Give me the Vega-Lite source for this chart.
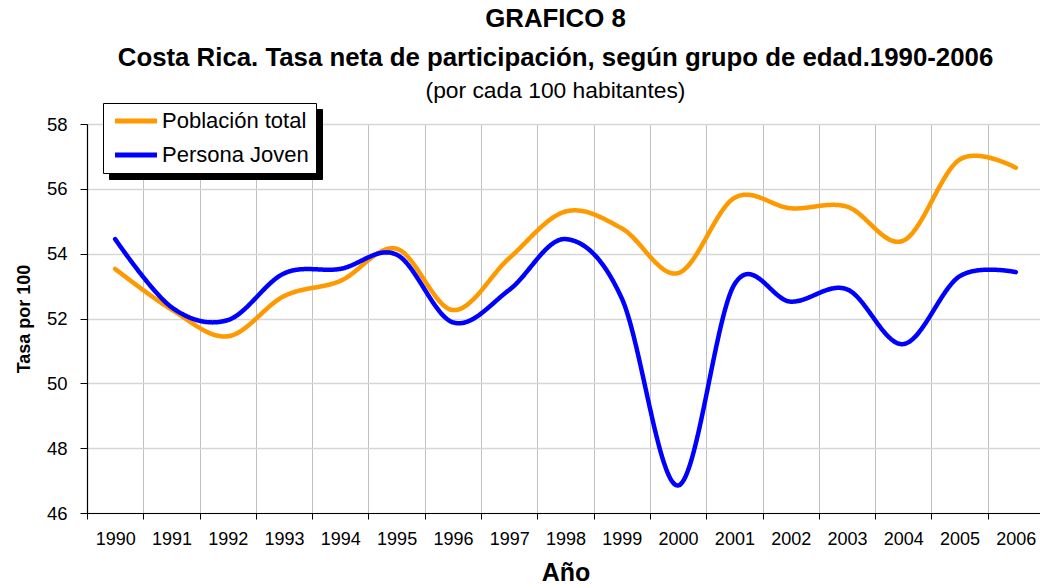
{
  "$schema": "https://vega.github.io/schema/vega-lite/v6.json",
  "width": 953,
  "height": 389,
  "autosize": {"type": "none"},
  "padding": {"left": 87, "top": 124, "right": 0, "bottom": 71},
  "background": "white",
  "title": {
    "text": ["GRAFICO 8", "Costa Rica. Tasa neta de participación, según grupo de edad.1990-2006"],
    "subtitle": "(por cada 100 habitantes)",
    "font": "Liberation Sans",
    "fontSize": 25.8,
    "fontWeight": "bold",
    "lineHeight": 39,
    "color": "black",
    "subtitleFont": "Liberation Sans",
    "subtitleFontSize": 22.8,
    "subtitleFontWeight": "normal",
    "subtitleColor": "black",
    "subtitlePadding": 8,
    "anchor": "middle",
    "frame": "group",
    "dx": -8,
    "offset": -1
  },
  "data": {
    "values": [
      {"anio": "1990", "serie": "Población total", "tasa": 53.53},
      {"anio": "1991", "serie": "Población total", "tasa": 52.28},
      {"anio": "1992", "serie": "Población total", "tasa": 51.45},
      {"anio": "1993", "serie": "Población total", "tasa": 52.69},
      {"anio": "1994", "serie": "Población total", "tasa": 53.16},
      {"anio": "1995", "serie": "Población total", "tasa": 54.15},
      {"anio": "1996", "serie": "Población total", "tasa": 52.26},
      {"anio": "1997", "serie": "Población total", "tasa": 53.86},
      {"anio": "1998", "serie": "Población total", "tasa": 55.3},
      {"anio": "1999", "serie": "Población total", "tasa": 54.78},
      {"anio": "2000", "serie": "Población total", "tasa": 53.4},
      {"anio": "2001", "serie": "Población total", "tasa": 55.72},
      {"anio": "2002", "serie": "Población total", "tasa": 55.4},
      {"anio": "2003", "serie": "Población total", "tasa": 55.45},
      {"anio": "2004", "serie": "Población total", "tasa": 54.4},
      {"anio": "2005", "serie": "Población total", "tasa": 56.9},
      {"anio": "2006", "serie": "Población total", "tasa": 56.65},
      {"anio": "1990", "serie": "Persona Joven", "tasa": 54.45},
      {"anio": "1991", "serie": "Persona Joven", "tasa": 52.35},
      {"anio": "1992", "serie": "Persona Joven", "tasa": 51.95},
      {"anio": "1993", "serie": "Persona Joven", "tasa": 53.39},
      {"anio": "1994", "serie": "Persona Joven", "tasa": 53.53},
      {"anio": "1995", "serie": "Persona Joven", "tasa": 53.97},
      {"anio": "1996", "serie": "Persona Joven", "tasa": 51.88},
      {"anio": "1997", "serie": "Persona Joven", "tasa": 52.88},
      {"anio": "1998", "serie": "Persona Joven", "tasa": 54.45},
      {"anio": "1999", "serie": "Persona Joven", "tasa": 52.62},
      {"anio": "2000", "serie": "Persona Joven", "tasa": 46.85},
      {"anio": "2001", "serie": "Persona Joven", "tasa": 53.05},
      {"anio": "2002", "serie": "Persona Joven", "tasa": 52.52},
      {"anio": "2003", "serie": "Persona Joven", "tasa": 52.9},
      {"anio": "2004", "serie": "Persona Joven", "tasa": 51.21},
      {"anio": "2005", "serie": "Persona Joven", "tasa": 53.3},
      {"anio": "2006", "serie": "Persona Joven", "tasa": 53.43}
    ]
  },
  "mark": {"type": "line", "interpolate": "cardinal", "strokeWidth": 4.5, "strokeCap": "round", "strokeJoin": "round"},
  "encoding": {
    "x": {
      "field": "anio",
      "type": "ordinal",
      "scale": {"type": "band", "paddingInner": 0, "paddingOuter": 0, "range": [0, 957]},
      "axis": {
        "title": "Año",
        "labelAngle": 0,
        "tickBand": "extent",
        "grid": true,
        "gridColor": "#c0c0c0",
        "gridWidth": 1,
        "domainColor": "black",
        "domainWidth": 1.2,
        "tickColor": "black",
        "tickSize": 6,
        "labelPadding": 11,
        "labelFont": "Liberation Sans",
        "labelFontSize": 18,
        "labelColor": "black",
        "titleFont": "Liberation Sans",
        "titleFontSize": 25,
        "titleFontWeight": "bold",
        "titleColor": "black",
        "titlePadding": 12,
        "zindex": 0
      }
    },
    "y": {
      "field": "tasa",
      "type": "quantitative",
      "scale": {"domain": [46, 58], "nice": false, "zero": false},
      "axis": {
        "title": "Tasa por 100",
        "values": [46, 48, 50, 52, 54, 56, 58],
        "grid": true,
        "gridColor": "#d6d6d6",
        "gridWidth": 1.5,
        "domainColor": "black",
        "domainWidth": 1.2,
        "tickColor": "black",
        "tickSize": 7,
        "labelPadding": 13,
        "labelFont": "Liberation Sans",
        "labelFontSize": 18.5,
        "labelColor": "black",
        "titleFont": "Liberation Sans",
        "titleFontSize": 18,
        "titleFontWeight": "bold",
        "titleColor": "black",
        "titlePadding": 13,
        "zindex": 0
      }
    },
    "color": {
      "field": "serie",
      "type": "nominal",
      "scale": {"domain": ["Población total", "Persona Joven"], "range": ["#FF9900", "#0000FF"]},
      "legend": {
        "orient": "none",
        "legendX": 16,
        "legendY": -21,
        "title": null,
        "fillColor": "white",
        "strokeColor": "black",
        "padding": 7,
        "symbolType": "M-2.47,0H2.47",
        "symbolSize": 289,
        "symbolStrokeWidth": 5,
        "symbolOffset": 15,
        "labelFont": "Liberation Sans",
        "labelFontSize": 22,
        "labelColor": "black",
        "labelOffset": 15,
        "rowPadding": 12,
        "zindex": 3
      }
    },
    "strokeDash": {
      "field": "serie",
      "type": "nominal",
      "scale": {"range": [[1, 0], [1, 0]]},
      "legend": {
        "orient": "none",
        "legendX": 22,
        "legendY": -15,
        "title": null,
        "fillColor": "black",
        "strokeColor": "black",
        "padding": 7,
        "symbolType": "M-2.47,0H2.47",
        "symbolSize": 289,
        "symbolStrokeWidth": 5,
        "symbolOffset": 15,
        "symbolStrokeColor": "black",
        "labelFont": "Liberation Sans",
        "labelFontSize": 22,
        "labelColor": "black",
        "labelOffset": 15,
        "rowPadding": 12,
        "zindex": 2
      }
    }
  },
  "config": {
    "view": {"stroke": null}
  }
}
